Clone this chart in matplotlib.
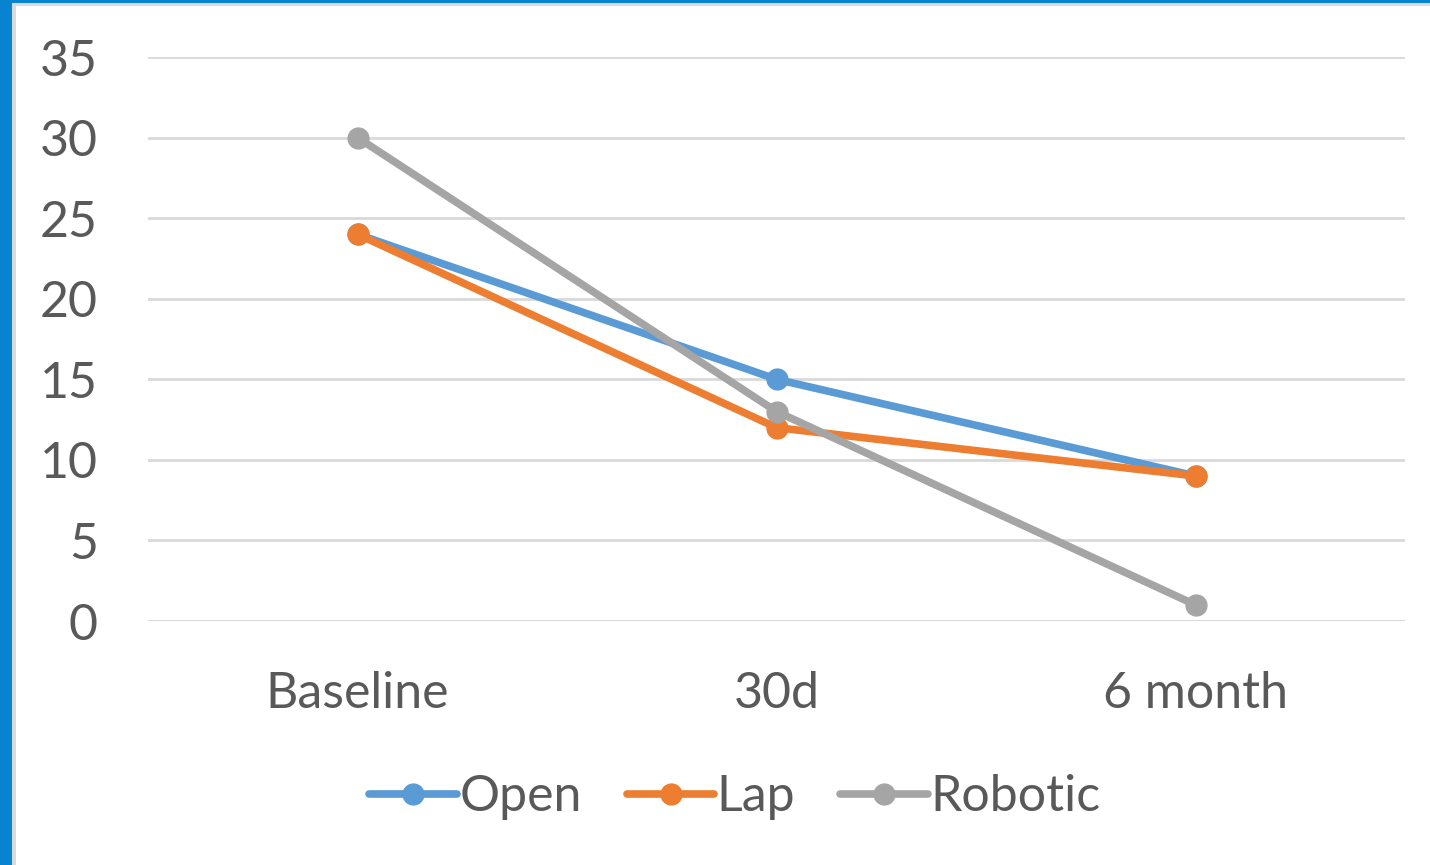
import matplotlib
matplotlib.use("Agg")
import matplotlib.pyplot as plt
from matplotlib.patches import Rectangle

categories = ["Baseline", "30d", "6 month"]
open_vals = [24, 15, 9]
lap_vals = [24, 12, 9]
robotic_vals = [30, 13, 1]
y_ticks = [0, 5, 10, 15, 20, 25, 30, 35]

series = [
    ("Open", open_vals, "#5B9BD5"),
    ("Lap", lap_vals, "#ED7D31"),
    ("Robotic", robotic_vals, "#A5A5A5"),
]

W, H = 1430, 865
fig = plt.figure(figsize=(W / 100, H / 100), dpi=100)
fig.patch.set_facecolor("white")

# frame strips along left and top edges
fig.patches.append(Rectangle((0, 0), 12 / W, 1, transform=fig.transFigure,
                             facecolor="#0883D0", edgecolor="none", zorder=0))
fig.patches.append(Rectangle((0, 1 - 3 / H), 1, 3 / H, transform=fig.transFigure,
                             facecolor="#0883D0", edgecolor="none", zorder=0))
fig.patches.append(Rectangle((12 / W, 0), 4 / W, 1 - 3 / H, transform=fig.transFigure,
                             facecolor="#DADADA", edgecolor="none", zorder=0))
fig.patches.append(Rectangle((12 / W, 1 - 6 / H), 1, 3 / H, transform=fig.transFigure,
                             facecolor="#DADADA", edgecolor="none", zorder=0))

ax = fig.add_axes([148 / W, (H - 621) / H, (1405 - 148) / W, (621 - 57) / H])
ax.set_facecolor("white")

x = list(range(len(categories)))
for name, vals, color in series:
    ax.plot(x, vals, color=color, lw=5.5, marker="o", markersize=15,
            solid_capstyle="round", label=name, zorder=3)

ax.set_xlim(-0.5, 2.5)
ax.set_ylim(0, 35)
ax.set_yticks(y_ticks)
ax.set_xticks(x)
ax.set_xticklabels(categories)
ax.yaxis.grid(True, color="#D9D9D9", lw=2)
ax.set_axisbelow(True)
for s in ax.spines.values():
    s.set_visible(False)
ax.axhline(0, color="#D9D9D9", lw=2, zorder=1)

font = "Lato"
fs = 36
ax.tick_params(axis="both", length=0, labelsize=fs, labelcolor="#595959")
ax.tick_params(axis="y", pad=36)
ax.tick_params(axis="x", pad=36)
for lbl in ax.get_xticklabels() + ax.get_yticklabels():
    lbl.set_fontfamily(font)

leg = ax.legend(loc="center", bbox_to_anchor=(735 / W, 1 - 797 / H),
                bbox_transform=fig.transFigure, ncol=3, frameon=False,
                prop={"family": font, "size": fs}, handlelength=1.75,
                handletextpad=0.05, columnspacing=0.9, labelcolor="#595959")

fig.savefig("out.png", dpi=100, facecolor="white")
